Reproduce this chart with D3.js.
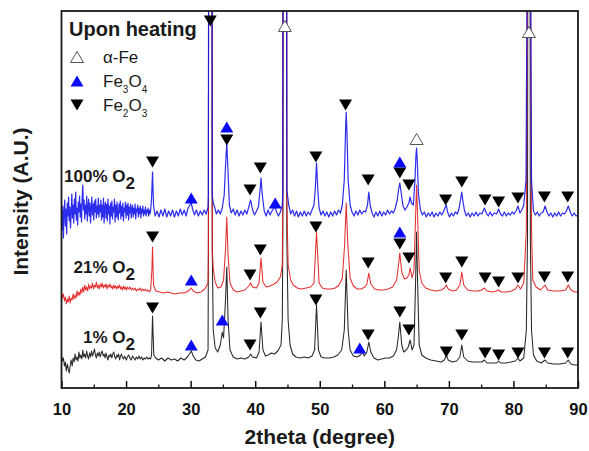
<!DOCTYPE html>
<html>
<head>
<meta charset="utf-8">
<script src="https://cdn.jsdelivr.net/npm/d3@7"></script>
<style>
  body { margin: 0; background: #fff; }
  svg { display: block; }
  text { font-family: "Liberation Sans", Arial, Helvetica, sans-serif; }
</style>
</head>
<body>
<svg id="chart" width="589" height="451"></svg>
<script>
// ---- data -------------------------------------------------------------
// Axis ticks (2theta, degree)
const xTicks = [10, 20, 30, 40, 50, 60, 70, 80, 90];
const xMinorTicks = [15, 25, 35, 45, 55, 65, 75, 85];

// Stacked XRD patterns, [2theta, intensity (a.u.)]
const pattern1 = [ // 1% O2
  [10.0,33],[10.15,27],[10.3,30],[10.45,22],[10.6,26],[10.75,17],[10.9,24],[11.05,19],[11.2,15],[11.35,23],
  [11.5,28],[11.65,22],[11.8,30],[11.95,26],[12.1,34],[12.25,28],[12.4,31],[12.55,27],[12.7,36],[12.85,30],
  [13.0,33],[13.15,29],[13.3,38],[13.45,31],[13.6,34],[13.75,30],[13.9,37],[14.05,32],[14.2,29],[14.35,35],
  [14.5,31],[14.65,37],[14.8,32],[14.95,35],[15.1,39],[15.25,33],[15.4,30],[15.55,35],[15.7,32],[15.85,36],
  [16.0,31],[16.15,35],[16.3,37],[16.45,32],[16.6,34],[16.75,30],[16.9,35],[17.05,31],[17.2,28],[17.35,33],
  [17.5,31],[17.65,34],[17.8,30],[17.95,34],[18.1,36],[18.25,31],[18.4,29],[18.55,33],[18.7,31],[18.85,34],
  [19.0,28],[19.15,32],[19.3,34],[19.45,30],[19.6,29],[19.75,32],[19.9,30],[20.05,28],[20.2,31],[20.4,33],
  [20.6,30],[20.8,28],[21.0,32],[21.2,30],[21.4,28],[21.6,31],[21.8,29],[22.0,32],[22.2,29],[22.4,31],
  [22.6,28],[22.8,30],[23.0,29],[23.2,31],[23.4,29],[23.6,30],[23.8,29],[23.95,33],[24.1,72],[24.3,33],
  [24.6,30],[25.0,28],[25.5,30],[26.0,27],[26.5,30],[27.0,28],[27.5,29],[28.0,27],[28.5,30],[29.0,28],
  [29.5,31],[29.8,34],[30.1,37],[30.4,32],[30.8,28],[31.3,27],[31.8,29],[32.3,31],[32.7,38],[32.75,138],
  [32.8,588],[33.3,588],[33.35,138],[33.5,58],[33.8,40],[34.2,36],[34.6,43],[34.9,56],[35.1,50],[35.4,88],
  [35.6,121],[35.8,68],[36.1,38],[36.6,31],[37.2,29],[37.8,30],[38.4,29],[39.0,31],[39.3,34],[39.6,31],
  [40.2,30],[40.6,36],[40.9,66],[41.2,38],[41.6,32],[42.0,33],[42.5,35],[43.0,34],[43.5,37],[44.0,43],
  [44.2,68],[44.28,150],[44.33,588],[44.85,588],[44.9,150],[45.1,68],[45.4,43],[45.8,34],[46.3,31],[47.0,30],
  [47.6,31],[48.2,30],[48.8,32],[49.2,38],[49.5,83],[49.8,38],[50.2,31],[50.8,30],[51.5,30],[52.2,31],
  [52.8,33],[53.4,38],[53.8,58],[54.1,118],[54.4,58],[54.7,38],[55.2,32],[55.8,31],[56.3,33],[56.6,36],
  [56.9,32],[57.3,36],[57.6,46],[57.9,36],[58.4,30],[59.0,28],[59.6,29],[60.2,30],[60.8,30],[61.4,32],
  [61.9,38],[62.2,53],[62.4,66],[62.7,43],[63.0,36],[63.4,38],[63.7,41],[64.0,48],[64.3,38],[64.6,43],
  [64.85,108],[65.0,156],[65.15,108],[65.4,43],[65.8,33],[66.4,30],[67.2,28],[68.0,27],[68.8,26],[69.3,28],
  [69.6,33],[69.9,28],[70.5,26],[71.2,27],[71.7,31],[72.0,43],[72.3,31],[72.9,27],[73.6,26],[74.4,26],
  [75.1,26],[75.5,28],[75.9,25],[76.8,25],[77.4,25],[77.7,27],[78.0,25],[78.8,25],[79.6,26],[80.3,27],
  [80.7,30],[81.0,27],[81.6,30],[82.0,58],[82.18,150],[82.25,588],[82.55,588],[82.62,150],[82.8,58],[83.1,33],
  [83.6,27],[84.3,25],[84.9,28],[85.3,25],[86.2,24],[87.2,24],[88.1,25],[88.5,28],[88.9,24],[89.5,23],
  [90.0,23]
];

const pattern21 = [ // 21% O2
  [10.0,95],[10.15,90],[10.3,94],[10.45,87],[10.6,91],[10.75,84],[10.9,89],[11.05,86],[11.2,92],[11.35,85],
  [11.5,90],[11.65,88],[11.8,94],[11.95,89],[12.1,93],[12.25,90],[12.4,97],[12.55,92],[12.7,96],[12.85,93],
  [13.0,99],[13.15,95],[13.3,101],[13.45,96],[13.6,103],[13.75,98],[13.9,101],[14.05,97],[14.2,104],[14.35,99],
  [14.5,102],[14.65,100],[14.8,105],[14.95,99],[15.1,103],[15.25,101],[15.4,106],[15.55,100],[15.7,103],[15.85,99],
  [16.0,104],[16.15,101],[16.3,105],[16.45,100],[16.6,103],[16.75,101],[16.9,104],[17.05,99],[17.2,103],[17.35,101],
  [17.5,104],[17.65,100],[17.8,102],[17.95,99],[18.1,103],[18.25,100],[18.4,102],[18.55,99],[18.7,102],[18.85,100],
  [19.0,103],[19.15,99],[19.3,101],[19.45,98],[19.6,102],[19.75,99],[19.9,101],[20.05,98],[20.2,101],[20.4,99],
  [20.6,101],[20.8,98],[21.0,100],[21.2,98],[21.4,100],[21.6,97],[21.8,99],[22.0,98],[22.2,100],[22.4,97],
  [22.6,99],[22.8,97],[23.0,99],[23.2,97],[23.4,98],[23.6,96],[23.8,98],[24.0,118],[24.1,141],[24.25,103],
  [24.6,97],[25.2,96],[25.8,95],[26.4,96],[27.0,95],[27.6,94],[28.2,95],[28.8,95],[29.4,96],[29.8,98],
  [30.1,100],[30.4,97],[31.0,95],[31.6,96],[32.2,99],[32.7,105],[32.75,138],[32.8,588],[33.3,588],[33.35,138],
  [33.5,120],[33.8,106],[34.2,100],[34.7,101],[35.1,108],[35.4,138],[35.6,171],[35.8,133],[36.1,105],[36.6,98],
  [37.2,96],[37.8,97],[38.4,98],[39.0,102],[39.3,105],[39.6,101],[40.2,100],[40.6,105],[40.9,130],[41.2,106],
  [41.7,101],[42.3,102],[42.9,104],[43.4,106],[43.9,111],[44.2,123],[44.28,188],[44.33,588],[44.85,588],[44.9,188],
  [45.1,123],[45.5,108],[45.9,103],[46.5,100],[47.2,99],[47.9,100],[48.6,101],[49.1,105],[49.5,156],[49.9,105],
  [50.4,100],[51.0,99],[51.7,99],[52.4,100],[53.0,103],[53.5,110],[53.85,143],[54.1,185],[54.35,143],[54.7,110],
  [55.2,102],[55.8,99],[56.4,99],[57.0,101],[57.3,104],[57.6,115],[57.9,104],[58.5,99],[59.2,98],[59.9,98],
  [60.6,99],[61.3,101],[61.9,108],[62.2,123],[62.4,135],[62.7,116],[63.1,109],[63.5,110],[63.8,113],[64.0,120],
  [64.3,110],[64.6,118],[64.85,173],[65.0,203],[65.15,173],[65.4,118],[65.8,105],[66.4,100],[67.2,98],[68.0,97],
  [68.8,98],[69.3,100],[69.6,103],[69.9,99],[70.5,97],[71.2,98],[71.7,103],[72.0,116],[72.3,103],[72.9,98],
  [73.7,97],[74.5,97],[75.1,98],[75.5,100],[75.9,97],[76.8,96],[77.4,97],[77.7,98],[78.1,96],[78.9,96],
  [79.7,97],[80.3,99],[80.7,103],[81.1,99],[81.6,105],[82.0,158],[82.25,588],[82.55,588],[82.8,158],[83.0,108],
  [83.5,101],[84.2,98],[84.9,103],[85.3,98],[86.2,97],[87.2,97],[88.1,98],[88.5,103],[88.9,98],[89.5,96],
  [90.0,96]
];

const pattern100 = [ // 100% O2
  [10.0,170],[10.1,158],[10.2,182],[10.3,150],[10.4,176],[10.5,188],[10.6,162],[10.7,179],[10.8,154],[10.9,185],
  [11.0,172],[11.1,191],[11.2,167],[11.3,181],[11.4,160],[11.5,176],[11.6,194],[11.7,170],[11.8,183],[11.9,165],
  [12.0,189],[12.1,174],[12.2,196],[12.3,168],[12.4,180],[12.5,163],[12.6,186],[12.7,176],[12.8,192],[12.9,171],
  [13.0,184],[13.1,166],[13.2,190],[13.3,203],[13.4,178],[13.5,188],[13.6,169],[13.7,183],[13.8,174],[13.9,192],
  [14.0,167],[14.1,181],[14.2,189],[14.3,172],[14.4,185],[14.5,165],[14.6,179],[14.7,191],[14.8,173],[14.9,184],
  [15.0,168],[15.1,187],[15.2,176],[15.3,189],[15.4,170],[15.5,182],[15.6,174],[15.7,190],[15.8,171],[15.9,183],
  [16.0,176],[16.1,188],[16.2,168],[16.3,183],[16.4,171],[16.5,190],[16.6,165],[16.7,180],[16.8,186],[16.9,170],
  [17.0,184],[17.1,167],[17.2,189],[17.3,174],[17.4,182],[17.5,164],[17.6,185],[17.7,172],[17.8,187],[17.9,169],
  [18.0,181],[18.1,176],[18.2,189],[18.3,166],[18.4,183],[18.5,171],[18.6,186],[18.7,173],[18.8,168],[18.9,184],
  [19.0,175],[19.1,187],[19.2,169],[19.3,182],[19.4,172],[19.5,185],[19.6,167],[19.7,180],[19.8,176],[19.9,186],
  [20.0,170],[20.1,183],[20.2,173],[20.3,185],[20.4,168],[20.5,181],[20.6,175],[20.7,184],[20.8,170],[20.9,179],
  [21.0,183],[21.1,171],[21.2,180],[21.3,174],[21.4,184],[21.5,169],[21.6,179],[21.7,176],[21.8,183],[21.9,171],
  [22.0,180],[22.1,174],[22.2,182],[22.3,170],[22.4,179],[22.5,175],[22.6,182],[22.7,172],[22.8,178],[22.9,174],
  [23.0,181],[23.1,172],[23.2,178],[23.3,175],[23.4,180],[23.5,172],[23.6,178],[23.7,174],[23.8,177],[23.95,190],
  [24.1,216],[24.25,183],[24.5,172],[24.8,177],[25.1,171],[25.4,178],
  [25.7,172],[26.0,179],[26.3,171],[26.6,177],[26.9,172],[27.2,178],[27.5,171],[27.8,177],[28.1,172],[28.4,179],
  [28.7,173],[29.0,178],[29.3,172],[29.6,180],[29.9,183],[30.1,185],[30.3,179],[30.6,173],[30.9,178],[31.2,172],
  [31.5,177],[31.8,173],[32.1,178],[32.4,174],[32.7,181],[32.75,193],[32.8,588],[33.3,588],[33.35,193],[33.5,185],
  [33.75,180],[34.0,174],[34.3,178],[34.6,174],[34.9,180],[35.2,193],[35.45,228],[35.6,245],[35.75,223],[36.0,183],
  [36.3,175],[36.6,179],[36.9,173],[37.2,178],[37.5,172],[37.8,177],[38.1,173],[38.4,178],[38.7,174],[39.0,181],
  [39.3,188],[39.6,178],[39.9,173],[40.2,177],[40.5,181],[40.75,198],[40.9,210],[41.1,193],[41.4,177],[41.7,172],
  [42.0,178],[42.3,173],[42.6,177],[42.9,180],[43.1,181],[43.3,176],[43.6,172],[43.9,176],[44.2,183],[44.28,198],
  [44.33,588],[44.85,588],[44.9,198],[45.2,183],[45.5,174],[45.8,178],[46.1,172],[46.4,177],[46.7,171],[47.0,176],
  [47.3,172],[47.6,177],[47.9,172],[48.2,176],[48.5,173],[48.8,178],[49.1,183],[49.3,198],[49.5,225],[49.7,198],
  [49.9,180],[50.2,173],[50.5,177],[50.8,172],[51.1,176],[51.4,171],[51.7,176],[52.0,172],[52.3,177],[52.6,173],
  [52.9,178],[53.2,175],[53.5,183],[53.8,208],[54.0,258],[54.1,276],[54.2,258],[54.4,208],[54.7,183],[55.0,176],
  [55.3,172],[55.6,177],[55.9,173],[56.2,178],[56.5,174],[56.8,177],[57.1,176],[57.4,183],[57.6,196],[57.8,183],
  [58.1,175],[58.4,171],[58.7,176],[59.0,172],[59.3,177],[59.6,172],[59.9,176],[60.2,173],[60.5,178],[60.8,174],
  [61.1,177],[61.4,175],[61.7,180],[62.0,188],[62.2,198],[62.4,205],[62.6,196],[62.9,182],[63.2,178],[63.5,181],
  [63.8,185],[64.0,191],[64.2,185],[64.5,183],[64.75,208],[64.9,233],[65.0,240],[65.1,228],[65.3,193],[65.6,178],
  [65.9,173],[66.2,176],[66.5,171],[66.8,175],[67.1,172],[67.4,176],[67.7,171],[68.0,175],[68.3,172],[68.6,176],
  [68.9,173],[69.2,177],[69.4,180],[69.6,183],[69.8,176],[70.1,171],[70.4,175],[70.7,172],[71.0,176],[71.3,174],
  [71.6,180],[71.85,190],[72.0,196],[72.15,188],[72.4,178],[72.7,172],[73.0,175],[73.3,171],[73.6,175],[73.9,172],
  [74.2,176],[74.5,172],[74.8,175],[75.1,174],[75.5,180],[75.8,175],[76.1,172],[76.4,176],[76.7,172],[77.0,175],
  [77.4,174],[77.7,179],[78.0,174],[78.3,172],[78.6,176],[78.9,172],[79.2,175],[79.5,173],[79.8,176],[80.1,174],
  [80.4,177],[80.7,182],[81.0,175],[81.3,178],[81.6,183],[81.95,208],[82.25,588],[82.55,588],[82.8,208],[83.1,177],
  [83.4,173],[83.7,176],[84.0,172],[84.3,175],[84.6,176],[84.9,182],[85.2,176],[85.5,172],[85.8,175],[86.1,171],
  [86.4,175],[86.7,172],[87.0,176],[87.3,172],[87.6,175],[87.9,174],[88.2,177],[88.5,182],[88.8,176],[89.1,172],
  [89.4,175],[89.7,172],[90.0,173]
];

// Phase reflection markers, [2theta, intensity (a.u.)] of the marker centre
const hematiteMarks = [ // Fe2O3, filled down-triangles
  [24.1,226],[33.05,367],[35.6,248],[39.2,198],[40.8,220],[49.4,231],[54.0,283],[57.5,208],[62.4,215],
  [63.8,203],[69.5,188],[72.0,206],[75.6,188],[77.7,186],[80.7,190],[84.8,191],[88.4,191],
  [24.1,151],[39.2,113],[40.8,138],[49.4,161],[57.5,125],[62.4,144],[63.8,130],[69.5,110],[72.0,126],
  [75.6,110],[77.7,106],[80.7,110],[84.8,111],[88.4,111],
  [24.1,80],[39.2,43],[40.8,75],[49.4,88],[57.5,53],[62.4,76],[63.8,58],[69.6,36],[72.0,53],
  [75.6,35],[77.7,33],[80.7,35],[84.8,35],[88.4,35]
];
const magnetiteMarks = [ // Fe3O4, filled blue up-triangles
  [30.1,190],[35.6,261],[43.1,185],[62.4,226],
  [30.1,108],[62.4,156],
  [30.1,43],[34.9,68],[56.2,40]
];
const ironMarks = [ // alpha-Fe, open up-triangles
  [44.6,362],[65.0,249],[82.4,356]
];

const seriesNames = ["1% O", "21% O", "100% O"];
const legendTitle = "Upon heating";

// ---- layout -----------------------------------------------------------
const svg = d3.select("#chart");
const plot = { left: 61.5, right: 578, top: 11, bottom: 388 };

const x = d3.scaleLinear().domain([10, 90]).range([plot.left, plot.right]);
const y = d3.scaleLinear().domain([0, 377]).range([plot.bottom, plot.top]);

svg.append("defs").append("clipPath").attr("id", "plotClip")
  .append("rect")
  .attr("x", plot.left).attr("y", plot.top)
  .attr("width", plot.right - plot.left).attr("height", plot.bottom - plot.top);

// ---- patterns ---------------------------------------------------------
const line = d3.line().x(d => x(d[0])).y(d => y(d[1]));
const traces = [
  { data: pattern1, color: "#111111", width: 1.05 },
  { data: pattern21, color: "#e01818", width: 1.05 },
  { data: pattern100, color: "#1515ea", width: 1.2 }
];
const gTraces = svg.append("g").attr("clip-path", "url(#plotClip)");
traces.forEach(t => {
  gTraces.append("path")
    .attr("d", line(t.data))
    .attr("fill", "none")
    .attr("stroke", t.color)
    .attr("stroke-width", t.width)
    .attr("stroke-opacity", 0.9)
    .attr("stroke-linejoin", "round");
});

// ---- markers ----------------------------------------------------------
const hw = 6.5, hh = 5.5;
function triDown(cx, cy) {
  return `M${cx - hw},${cy - hh}L${cx + hw},${cy - hh}L${cx},${cy + hh}Z`;
}
function triUp(cx, cy) {
  return `M${cx - hw},${cy + hh}L${cx + hw},${cy + hh}L${cx},${cy - hh}Z`;
}
const gMarks = svg.append("g");
gMarks.selectAll("path.hem").data(hematiteMarks).join("path")
  .attr("class", "hem")
  .attr("d", d => triDown(x(d[0]), y(d[1])))
  .attr("fill", "#000");
gMarks.selectAll("path.mag").data(magnetiteMarks).join("path")
  .attr("class", "mag")
  .attr("d", d => triUp(x(d[0]), y(d[1])))
  .attr("fill", "#0a0af5");
gMarks.selectAll("path.fe").data(ironMarks).join("path")
  .attr("class", "fe")
  .attr("d", d => triUp(x(d[0]), y(d[1])))
  .attr("fill", "#fff")
  .attr("stroke", "#555")
  .attr("stroke-width", 1);

// ---- frame & axis -----------------------------------------------------
const xAxis = d3.axisBottom(x).tickValues(xTicks).tickSize(-7).tickPadding(15)
  .tickFormat(d3.format("d"));
const gx = svg.append("g").attr("transform", `translate(0,${plot.bottom})`).call(xAxis);
gx.select(".domain").remove();
gx.selectAll(".tick line").attr("stroke", "#111").attr("stroke-width", 1.5);
gx.selectAll(".tick text")
  .attr("font-size", 16.5).attr("font-weight", "bold").attr("fill", "#111")
  .attr("font-family", "'Liberation Sans', Arial, sans-serif");

const gxm = svg.append("g").attr("transform", `translate(0,${plot.bottom})`)
  .call(d3.axisBottom(x).tickValues(xMinorTicks).tickSize(-3.5).tickFormat(""));
gxm.select(".domain").remove();
gxm.selectAll(".tick line").attr("stroke", "#111").attr("stroke-width", 1.3);

svg.append("rect")
  .attr("x", plot.left).attr("y", plot.top)
  .attr("width", plot.right - plot.left).attr("height", plot.bottom - plot.top)
  .attr("fill", "none").attr("stroke", "#1a1a1a").attr("stroke-width", 1.8);

// axis titles
svg.append("text")
  .attr("x", (plot.left + plot.right) / 2).attr("y", 444)
  .attr("text-anchor", "middle")
  .attr("font-size", 21).attr("font-weight", "bold").attr("fill", "#1a1a1a")
  .text("2theta (degree)");

svg.append("text")
  .attr("transform", `translate(28,${(plot.top + plot.bottom) / 2 + 2}) rotate(-90)`)
  .attr("text-anchor", "middle")
  .attr("font-size", 21).attr("font-weight", "bold").attr("fill", "#1a1a1a")
  .text("Intensity (A.U.)");

// ---- series labels ----------------------------------------------------
const labelLevels = [45, 115, 206];
seriesNames.forEach((name, i) => {
  const t = svg.append("text")
    .attr("x", 135).attr("y", y(labelLevels[i]))
    .attr("text-anchor", "end")
    .attr("font-size", 17).attr("font-weight", "bold").attr("fill", "#1a1a1a");
  t.append("tspan").text(name);
  t.append("tspan").attr("dy", 6.5).text("2");
});

// ---- legend -----------------------------------------------------------
svg.append("text")
  .attr("x", 69).attr("y", 36)
  .attr("font-size", 20).attr("font-weight", "bold").attr("fill", "#1a1a1a")
  .text(legendTitle);

const legendItems = [
  { shape: "open", parts: [["α-Fe", false]], y: 57 },
  { shape: "up", parts: [["Fe", false], ["3", true], ["O", false], ["4", true]], y: 81 },
  { shape: "down", parts: [["Fe", false], ["2", true], ["O", false], ["3", true]], y: 105 }
];
legendItems.forEach(item => {
  const cx = 77, cy = item.y;
  const p = svg.append("path");
  if (item.shape === "open") {
    p.attr("d", triUp(cx, cy)).attr("fill", "#fff").attr("stroke", "#555").attr("stroke-width", 1);
  } else if (item.shape === "up") {
    p.attr("d", triUp(cx, cy)).attr("fill", "#0a0af5");
  } else {
    p.attr("d", triDown(cx, cy)).attr("fill", "#000");
  }
  const t = svg.append("text")
    .attr("x", 103).attr("y", cy + 6)
    .attr("font-size", 17).attr("fill", "#1a1a1a");
  let sub = false;
  item.parts.forEach(([s, isSub]) => {
    const ts = t.append("tspan").text(s);
    if (isSub && !sub) ts.attr("dy", 6).attr("font-size", 10);
    else if (isSub) ts.attr("font-size", 10);
    else if (!isSub && sub) ts.attr("dy", -6);
    sub = isSub;
  });
});
</script>
</body>
</html>
